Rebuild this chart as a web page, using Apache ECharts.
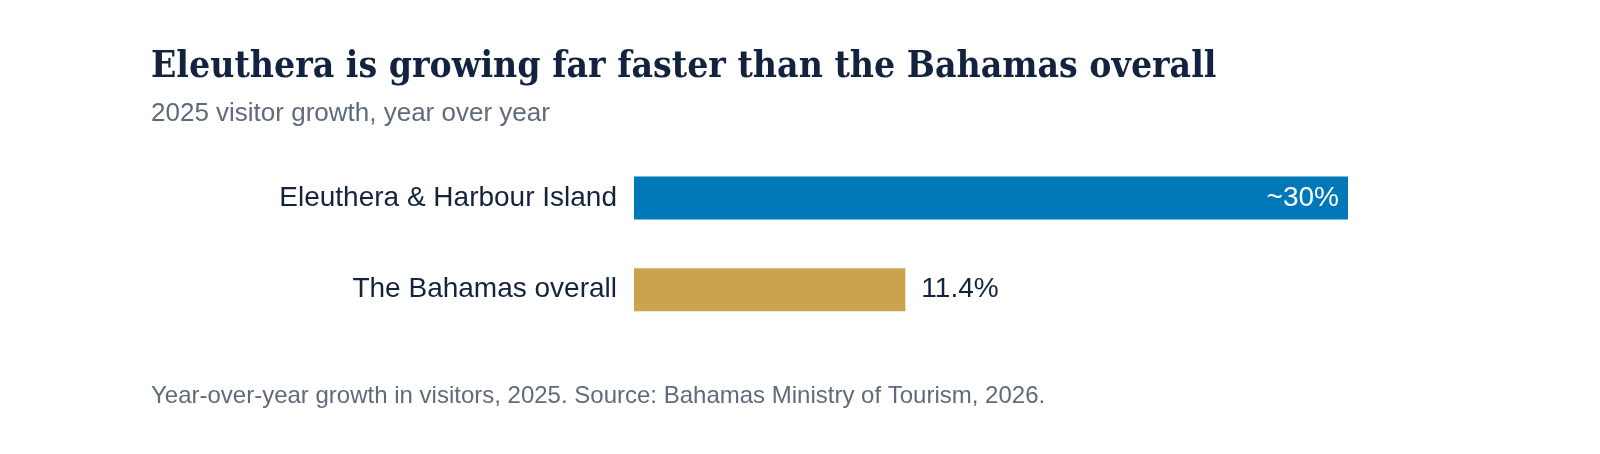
<!DOCTYPE html>
<html>
<head>
<meta charset="utf-8">
<script src="https://cdn.jsdelivr.net/npm/echarts@6/dist/echarts.min.js"></script>
<style>
	html, body { margin: 0; padding: 0; background: #ffffff; }
	#chart { width: 1600px; height: 454px; }
</style>
</head>
<body>
<div id="chart"></div>
<script>
	// data
	var categories = ['Eleuthera & Harbour Island', 'The Bahamas overall'];
	var growth = [30, 11.4];
	var valueLabels = ['~30%', '11.4%'];
	var barColors = ['#0077b6', '#c9a44c'];

	var myChart = echarts.init(document.getElementById('chart'));

	var option = {
		backgroundColor: '#ffffff',
		animation: false,
		title: [{
			text: 'Eleuthera is growing far faster than the Bahamas overall',
			left: 146,
			top: 44,
			textStyle: {
				fontFamily: 'DejaVu Serif Condensed',
				fontWeight: 'bold',
				fontSize: 37,
				color: '#13233f'
			}
		}, {
			text: '2025 visitor growth, year over year',
			left: 146,
			top: 96,
			textStyle: {
				fontFamily: 'Liberation Sans',
				fontWeight: 'normal',
				fontSize: 26,
				color: '#5f6b7a'
			}
		}, {
			text: 'Year-over-year growth in visitors, 2025. Source: Bahamas Ministry of Tourism, 2026.',
			left: 146,
			top: 379,
			textStyle: {
				fontFamily: 'Liberation Sans',
				fontWeight: 'normal',
				fontSize: 24,
				color: '#5f6b7a'
			}
		}],
		grid: {
			left: 634,
			right: 252,
			top: 152,
			height: 183.5
		},
		xAxis: {
			type: 'value',
			min: 0,
			max: 30,
			show: false
		},
		yAxis: {
			type: 'category',
			data: categories,
			inverse: true,
			axisLine: { show: false },
			axisTick: { show: false },
			splitLine: { show: false },
			axisLabel: {
				margin: 17,
				fontFamily: 'Liberation Sans',
				fontSize: 28,
				color: '#13233f'
			}
		},
		series: [{
			type: 'bar',
			barWidth: 43,
			data: growth.map(function (v, i) {
				return {
					value: v,
					itemStyle: { color: barColors[i] },
					label: i === 0 ? {
						show: true,
						position: 'insideRight',
						offset: [-4, 0],
						color: '#ffffff'
					} : {
						show: true,
						position: 'right',
						distance: 16,
						color: '#13233f'
					}
				};
			}),
			label: {
				fontFamily: 'Liberation Sans',
				fontSize: 28,
				formatter: function (p) {
					return valueLabels[p.dataIndex];
				}
			}
		}]
	};

	myChart.setOption(option);
</script>
</body>
</html>
